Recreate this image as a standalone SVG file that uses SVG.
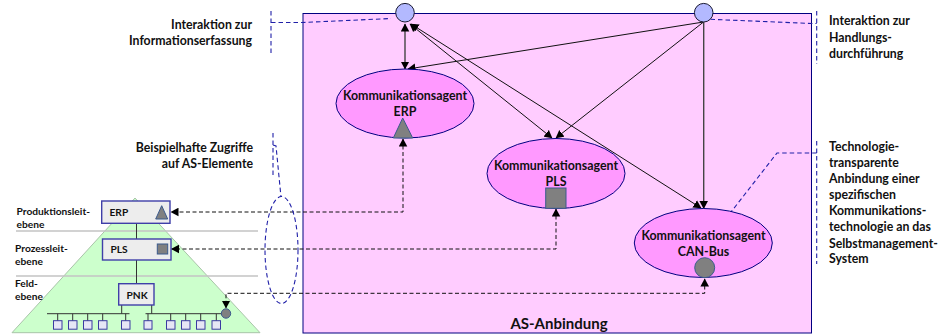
<svg xmlns="http://www.w3.org/2000/svg" width="943" height="335" viewBox="0 0 943 335">
<style>
text{font-family:Lato,"Liberation Sans",sans-serif;font-weight:700;fill:#111}
.lb{font-size:10.2px}
.nt{font-size:12.3px}
.end{text-anchor:end}
.bx{font-size:10.2px}
.ag{font-size:12.4px;text-anchor:middle}
.agent{fill:#ff99ff;stroke:#000080;stroke-width:1}
.port{fill:#b3b9ff;stroke:#1a1a33;stroke-width:1}
.elem{fill:#808080;stroke:#3b5a8c;stroke-width:1}
.box{fill:#ededed;stroke:#3f3fa8;stroke-width:1.4}
.solid{fill:none;stroke:#111;stroke-width:1}
.vert{fill:none;stroke:#444;stroke-width:1.4}
.acc{fill:none;stroke:#111;stroke-width:1;stroke-dasharray:4 2.5}
.blue{fill:none;stroke:#2020a8;stroke-width:1.1;stroke-dasharray:4.5 3}
.tree{fill:none;stroke:#333;stroke-width:1}
.leaf{fill:#e6e6f5;stroke:#3a3aa0;stroke-width:1}
.sep{stroke:#c4c4c4;stroke-width:1.3;fill:none}
</style>
<defs>
<marker id="ah" markerUnits="userSpaceOnUse" markerWidth="9" markerHeight="9" refX="7.5" refY="4.5" orient="auto-start-reverse"><path d="M0 0.2L8 4.5L0 8.8Z" fill="#000"/></marker>
</defs>
<g id="as-anbindung">
<rect x="303" y="13.5" width="508.5" height="319.5" fill="#ffccff" stroke="#000080" stroke-width="1"/>
<text x="559" y="329" text-anchor="middle" style="font-size:15px">AS-Anbindung</text>
</g>
<g id="pyramid">
<path d="M12 332.7L135 198L260 332.7Z" fill="#ccffcc" stroke="#a8c4a8" stroke-width="1"/>
<path class="sep" d="M16 231H258M16 276H258"/>
</g>
<g id="label-produktion"><text class="lb" x="16.500" y="215">Produktionsleit-</text><text class="lb" x="16.500" y="228">ebene</text></g>
<g id="label-prozess"><text class="lb" x="15" y="252">Prozessleit-</text><text class="lb" x="15" y="265">ebene</text></g>
<g id="label-feld"><text class="lb" x="15" y="287">Feld-</text><text class="lb" x="15" y="300">ebene</text></g>
<g id="connectors">
<path class="tree" d="M136.5 223V239M136.500 260V284M121.700 305V313.700M151.700 305V313.700M47 313.700H129.500M145.500 313.700H222"/>
<path class="tree" d="M57.700 313.700V321M72.700 313.700V321M87.700 313.700V321M102.700 313.700V321M125.700 313.700V321M148 313.700V321M170.700 313.700V321M185.700 313.700V321M200.700 313.700V321M216.300 313.700V321"/>
<path class="vert" d="M405 24V69" marker-start="url(#ah)" marker-end="url(#ah)"/>
<path class="solid" d="M703.500 22L408 69" marker-end="url(#ah)"/>
<path class="solid" d="M703.500 22L556 138" marker-end="url(#ah)"/>
<path class="vert" d="M703.700 22V208.500" marker-end="url(#ah)"/>
<path class="solid" d="M410 24L552 138" marker-start="url(#ah)" marker-end="url(#ah)"/>
<path class="solid" d="M411 24L701 208" marker-start="url(#ah)" marker-end="url(#ah)"/>
<path class="acc" d="M403 139V212H171" marker-start="url(#ah)" marker-end="url(#ah)"/>
<path class="acc" d="M556 209V249H171.500" marker-start="url(#ah)" marker-end="url(#ah)"/>
<path class="acc" d="M704.700 279V293.300H226V308" marker-start="url(#ah)" marker-end="url(#ah)"/>
<path class="blue" d="M271 11V55M271 22.500H303L391 18.500"/>
<path class="blue" d="M703 19L812 23.500H816.700M816.700 11V64"/>
<path class="blue" d="M816.700 141V264M816.700 153H777L731 212"/>
<path class="blue" d="M273 133V178M273 145L276 146L281 197"/>
<ellipse class="blue" cx="281.500" cy="250" rx="16.500" ry="53.500"/>
</g>
<g id="port-info"><circle class="port" cx="405" cy="12.700" r="9.300"/></g>
<g id="port-handlung"><circle class="port" cx="703.700" cy="12.700" r="9.300"/></g>
<g id="agent-erp">
<ellipse class="agent" cx="405" cy="103.500" rx="69" ry="34.500"/>
<text class="ag" x="405" y="100">Kommunikationsagent</text>
<text class="ag" x="405" y="116">ERP</text>
<path class="elem" d="M402.700 118L412.700 138H393.300Z"/>
</g>
<g id="agent-pls">
<ellipse class="agent" cx="556" cy="173.500" rx="69" ry="35"/>
<text class="ag" x="556" y="170">Kommunikationsagent</text>
<text class="ag" x="556" y="186">PLS</text>
<rect class="elem" x="545.700" y="188" width="20.300" height="20.300"/>
</g>
<g id="agent-can">
<ellipse class="agent" cx="703.300" cy="243" rx="69" ry="34.500"/>
<text class="ag" x="703.500" y="240">Kommunikationsagent</text>
<text class="ag" x="703.500" y="256">CAN-Bus</text>
<circle class="elem" cx="704.700" cy="267.700" r="10"/>
</g>
<g id="box-erp">
<rect class="box" x="101.700" y="201" width="68.300" height="22.300"/>
<text class="bx" x="109.500" y="216">ERP</text>
<path class="elem" d="M161.700 205.700L167.700 219H155.700Z"/>
</g>
<g id="box-pls">
<rect class="box" x="102.500" y="239" width="68.500" height="21"/>
<text class="bx" x="110.500" y="253">PLS</text>
<rect class="elem" x="157.300" y="244" width="10.400" height="10"/>
</g>
<g id="box-pnk">
<rect class="box" x="118.700" y="283.700" width="35.300" height="21.300"/>
<text class="bx" x="126.500" y="299">PNK</text>
</g>
<g id="leaves">
<rect class="leaf" x="53.500" y="320.700" width="8.500" height="8.500"/><rect class="leaf" x="68.500" y="320.700" width="8.500" height="8.500"/><rect class="leaf" x="83.500" y="320.700" width="8.500" height="8.500"/><rect class="leaf" x="98.500" y="320.700" width="8.500" height="8.500"/><rect class="leaf" x="121.500" y="320.700" width="8.500" height="8.500"/><rect class="leaf" x="144" y="320.700" width="8" height="8.500"/><rect class="leaf" x="166.500" y="320.700" width="8.500" height="8.500"/><rect class="leaf" x="181.500" y="320.700" width="8.500" height="8.500"/><rect class="leaf" x="196.500" y="320.700" width="8.500" height="8.500"/><rect class="leaf" x="212" y="320.700" width="8.500" height="8.500"/>
<circle class="elem" cx="226" cy="313.500" r="4.700"/>
</g>
<g id="note-info"><text class="nt end" x="252" y="29">Interaktion zur</text><text class="nt end" x="252" y="45">Informationserfassung</text></g>
<g id="note-zugriffe"><text class="nt end" x="253" y="152">Beispielhafte Zugriffe</text><text class="nt end" x="253" y="168">auf AS-Elemente</text></g>
<g id="note-handlung"><text class="nt" x="829" y="25">Interaktion zur</text><text class="nt" x="829" y="42">Handlungs-</text><text class="nt" x="829" y="58">durchführung</text></g>
<g id="note-tech">
<text class="nt" x="829" y="151">Technologie-</text><text class="nt" x="829" y="167">transparente</text><text class="nt" x="829" y="183">Anbindung einer</text><text class="nt" x="829" y="199">spezifischen</text><text class="nt" x="829" y="215">Kommunikations-</text><text class="nt" x="829" y="231">technologie an das</text><text class="nt" x="829" y="248">Selbstmanagement-</text><text class="nt" x="829" y="263">System</text>
</g>
</svg>
